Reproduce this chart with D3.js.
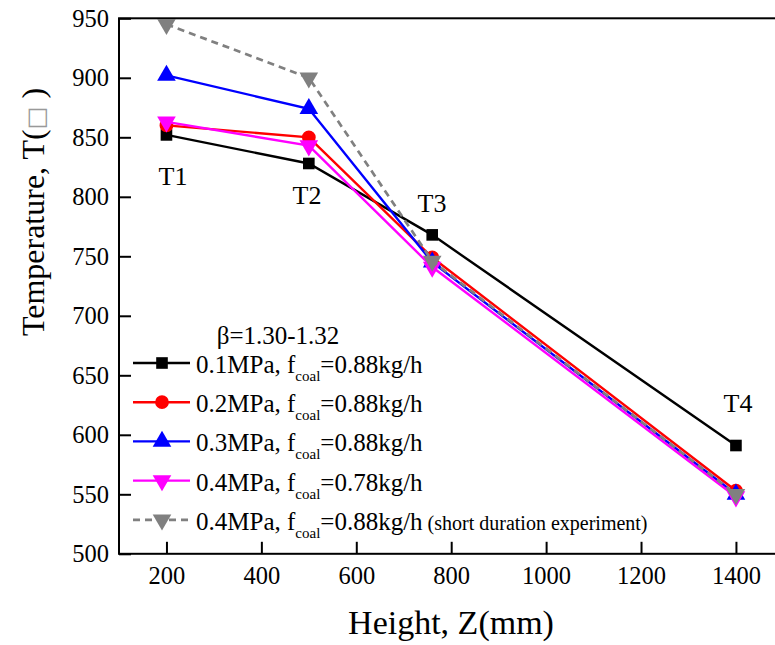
<!DOCTYPE html>
<html>
<head>
<meta charset="utf-8">
<script src="https://cdn.jsdelivr.net/npm/d3@7"></script>
<style>
  body { margin: 0; background: #fff; }
  svg text { font-family: "Liberation Serif", "Times New Roman", serif; }
</style>
</head>
<body>
<div id="chart"></div>
<script>
// data
let heights = [200, 500, 760, 1400];
let pointLabels = ["T1", "T2", "T3", "T4"];
let t01 = [852, 828, 768, 591];
let t02 = [860, 850, 749, 553];
let t03 = [902, 874, 745, 550];
let t04 = [863, 843, 741, 548];
let t04short = [945, 900, 746, 550];
let xTicks = [200, 400, 600, 800, 1000, 1200, 1400];
let yTicks = [500, 550, 600, 650, 700, 750, 800, 850, 900, 950];

let seriesNames = ["0.1MPa", "0.2MPa", "0.3MPa", "0.4MPa", "0.4MPa"];
let seriesFeed = ["=0.88kg/h", "=0.88kg/h", "=0.88kg/h", "=0.78kg/h", "=0.88kg/h"];
let seriesColors = ["#000000", "#ff0000", "#0000ff", "#ff00ff", "#808080"];
let seriesSymbols = [d3.symbolSquare, d3.symbolCircle, d3.symbolTriangle, "down", "down"];

let serif = '"Liberation Serif", "Times New Roman", serif';

let svgWidth = 775;
let svgHeight = 645;

let svg = d3.select("#chart")
  .append("svg")
  .attr("width", svgWidth)
  .attr("height", svgHeight)
  .attr("font-family", serif);

// scales
let xScale = d3.scaleLinear().domain([100, 1500]).range([119, 783.4]);
let yScale = d3.scaleLinear().domain([500, 950]).range([553.8, 18.3]);

// frame (right edge falls outside the picture)
svg.append("rect")
  .attr("x", xScale(100))
  .attr("y", yScale(950))
  .attr("width", xScale(1500) - xScale(100))
  .attr("height", yScale(500) - yScale(950))
  .attr("fill", "none")
  .attr("stroke", "#000")
  .attr("stroke-width", 2);

// axes with inward ticks
let bottomAxis = d3.axisBottom(xScale).tickValues(xTicks).tickFormat(d3.format("d"))
  .tickSizeInner(-12).tickSizeOuter(0).tickPadding(13);
let leftAxis = d3.axisLeft(yScale).tickValues(yTicks).tickFormat(d3.format("d"))
  .tickSizeInner(-12).tickSizeOuter(0).tickPadding(10);

let gx = svg.append("g")
  .attr("transform", `translate(0, ${yScale(500)})`)
  .call(bottomAxis);
let gy = svg.append("g")
  .attr("transform", `translate(${xScale(100)}, 0)`)
  .call(leftAxis);

[gx, gy].forEach(g => {
  g.attr("font-family", serif).attr("font-size", 24.5);
  g.select(".domain").remove();
  g.selectAll(".tick line").attr("stroke", "#000").attr("stroke-width", 2);
  g.selectAll(".tick text").attr("fill", "#000");
});
gx.selectAll(".tick text").attr("dy", "0.71em");

// axis titles
svg.append("text")
  .attr("x", 451)
  .attr("y", 634)
  .attr("text-anchor", "middle")
  .attr("font-size", 34)
  .text("Height, Z(mm)");

let yTitle = svg.append("text")
  .attr("transform", "translate(44, 212) rotate(-90)")
  .attr("text-anchor", "middle")
  .attr("font-size", 32);
yTitle.append("tspan").text("Temperature, T(");
yTitle.append("tspan").attr("fill", "#999").attr("font-family", "DejaVu Sans").attr("font-size", 24).text("\u25A1");
yTitle.append("tspan").text(" )");

// symbol helper
function symbolPath(type, size) {
  if (type === "down") {
    return d3.symbol().type(d3.symbolTriangle).size(size)();
  }
  return d3.symbol().type(type).size(size)();
}
function symbolRotate(type) {
  return type === "down" ? " rotate(180)" : "";
}
let symbolSizes = [135, 150, 150, 150, 150];

let allSeries = [t01, t02, t03, t04, t04short];

let line = d3.line()
  .x((d, i) => xScale(heights[i]))
  .y(d => yScale(d));

allSeries.forEach((values, s) => {
  let g = svg.append("g");
  g.append("path")
    .datum(values)
    .attr("d", line)
    .attr("fill", "none")
    .attr("stroke", seriesColors[s])
    .attr("stroke-width", s === 4 ? 2.7 : 2.4)
    .attr("stroke-dasharray", s === 4 ? "7,5" : null);
  g.selectAll("path.pt")
    .data(values)
    .enter()
    .append("path")
    .attr("class", "pt")
    .attr("d", symbolPath(seriesSymbols[s], symbolSizes[s]))
    .attr("transform", (d, i) => `translate(${xScale(heights[i])}, ${yScale(d)})` + symbolRotate(seriesSymbols[s]))
    .attr("fill", seriesColors[s]);
});

// T labels
let labelOffsets = [[173, 185], [307, 204], [432, 212], [738, 412]];
svg.selectAll("text.tlabel")
  .data(pointLabels)
  .enter()
  .append("text")
  .attr("class", "tlabel")
  .attr("x", (d, i) => labelOffsets[i][0])
  .attr("y", (d, i) => labelOffsets[i][1])
  .attr("text-anchor", "middle")
  .attr("font-size", 26)
  .text(d => d);

// legend
svg.append("text")
  .attr("x", 278)
  .attr("y", 344)
  .attr("text-anchor", "middle")
  .attr("font-size", 25)
  .text("\u03B2=1.30-1.32");

let legendTop = 363;
let legendStep = 39.2;
seriesNames.forEach((name, s) => {
  let y = legendTop + s * legendStep;
  let g = svg.append("g");
  g.append("line")
    .attr("x1", 133).attr("x2", 190)
    .attr("y1", y).attr("y2", y)
    .attr("stroke", seriesColors[s])
    .attr("stroke-width", s === 4 ? 2.7 : 2.4)
    .attr("stroke-dasharray", s === 4 ? "7,5" : null);
  g.append("path")
    .attr("d", symbolPath(seriesSymbols[s], symbolSizes[s]))
    .attr("transform", `translate(162, ${y})` + symbolRotate(seriesSymbols[s]))
    .attr("fill", seriesColors[s]);
  let t = g.append("text")
    .attr("x", 196)
    .attr("y", y + 10)
    .attr("font-size", 25);
  t.append("tspan").text(name + ", f");
  t.append("tspan").attr("dy", 8).attr("font-size", 15).text("coal");
  t.append("tspan").attr("dy", -8).text(seriesFeed[s]);
  if (s === 4) {
    t.append("tspan").attr("font-size", 20).text(" (short duration experiment)");
  }
});
</script>
</body>
</html>
